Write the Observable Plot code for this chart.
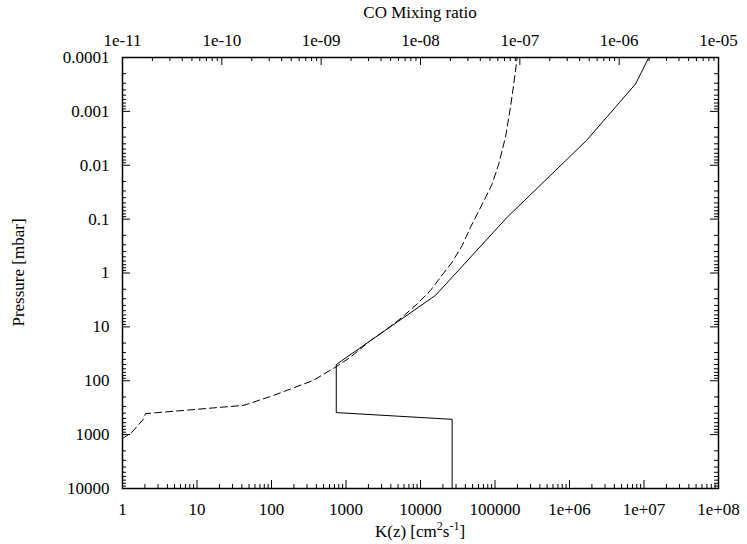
<!DOCTYPE html>
<html><head><meta charset="utf-8">
<script src="https://cdn.jsdelivr.net/npm/d3@7"></script>
<script src="https://cdn.jsdelivr.net/npm/@observablehq/plot@0.6"></script>
<style>body{margin:0;background:#fff} svg, svg text{font-family:"Liberation Serif","Times New Roman",serif !important;}</style>
</head><body><div id="chart"></div>
<script>
// K(z) eddy diffusion profile (bottom axis)
const kzPressure = [10000, 520, 390, 50, 2.6, 0.092, 0.00347, 0.00031, 0.0001];
const kzValue    = [2.66e4, 2.66e4, 740, 740, 1.59e4, 1.46e5, 1.69e6, 7.7e6, 1.16e7];
// CO mixing ratio profile (top axis)
const coPressure = [1186, 896, 505, 408, 286, 187, 98, 56.0, 36.6, 17.9, 10.9, 6.61, 3.73, 2.11, 1.20, 0.631, 0.309, 0.141, 0.042, 0.0221, 0.0094, 0.00301, 0.000837, 0.000308, 0.0001];
const coValue    = [1e-11, 1.25e-11, 1.64e-11, 1.7e-11, 1.67e-10, 3.32e-10, 8.38e-10, 1.39e-9, 1.97e-9, 3.14e-9, 4.62e-9, 6.55e-9, 9.27e-9, 1.26e-8, 1.59e-8, 2.08e-8, 2.63e-8, 3.19e-8, 4.45e-8, 5.27e-8, 6.14e-8, 7.17e-8, 8.05e-8, 8.69e-8, 9.40e-8];
// tick values
const kTicks  = [1, 10, 100, 1000, 10000, 100000, 1e6, 1e7, 1e8];
const kLabels = ["1", "10", "100", "1000", "10000", "100000", "1e+06", "1e+07", "1e+08"];
const coTicks  = [1e-11, 1e-10, 1e-9, 1e-8, 1e-7, 1e-6, 1e-5];
const coLabels = ["1e-11", "1e-10", "1e-09", "1e-08", "1e-07", "1e-06", "1e-05"];
const pTicks  = [0.0001, 0.001, 0.01, 0.1, 1, 10, 100, 1000, 10000];
const pLabels = ["0.0001", "0.001", "0.01", "0.1", "1", "10", "100", "1000", "10000"];

const W = 747, H = 544, mL = 122, mR = 29, mT = 57, mB = 56;
const innerW = W - mL - mR, innerH = H - mT - mB;
const majorLen = 8, minorLen = 4;
const FONT = "Liberation Serif";

// map CO (x2 axis, 1e-11..1e-5) onto the K scale domain (1..1e8)
const co2k = co => 10 ** ((Math.log10(co) + 11) * 8 / 6);
const minors = ticks => ticks.slice(0, -1).flatMap(t => [2,3,4,5,6,7,8,9].map(m => t * m));

const kz = kzPressure.map((p, i) => ({p, v: kzValue[i]}));
const co = coPressure.map((p, i) => ({p, v: coValue[i]}));
const kLab = kTicks.map((t, i) => ({t, label: kLabels[i]}));
const coLab = coTicks.map((t, i) => ({t, label: coLabels[i]}));
const pLab = pTicks.map((t, i) => ({t, label: pLabels[i]}));

const txt = {fontFamily: FONT, fontSize: 17, fill: "#000"};

const svg = Plot.plot({
  width: W, height: H,
  marginLeft: mL, marginRight: mR, marginTop: mT, marginBottom: mB,
  style: {background: "#fff"},
  x: {type: "log", domain: [1, 1e8], axis: null},
  y: {type: "log", domain: [0.0001, 10000], reverse: true, axis: null},
  marks: [
    // inward tick marks
    Plot.ruleX(kTicks, {insetTop: innerH - majorLen, stroke: "#000"}),
    Plot.ruleX(minors(kTicks), {insetTop: innerH - minorLen, stroke: "#000"}),
    Plot.ruleX(coTicks, {x: co2k, insetBottom: innerH - majorLen, stroke: "#000"}),
    Plot.ruleX(minors(coTicks), {x: co2k, insetBottom: innerH - minorLen, stroke: "#000"}),
    Plot.ruleY(pTicks, {insetRight: innerW - majorLen, stroke: "#000"}),
    Plot.ruleY(minors(pTicks), {insetRight: innerW - minorLen, stroke: "#000"}),
    Plot.ruleY(pTicks, {insetLeft: innerW - majorLen, stroke: "#000"}),
    Plot.ruleY(minors(pTicks), {insetLeft: innerW - minorLen, stroke: "#000"}),
    // data
    Plot.line(kz, {x: "v", y: "p", stroke: "#000", strokeWidth: 1}),
    Plot.line(co, {x: d => co2k(d.v), y: "p", stroke: "#000", strokeWidth: 1, strokeDasharray: "7,4", clip: true}),
    Plot.frame({stroke: "#000", strokeWidth: 1.5}),
    // tick labels
    Plot.text(kLab, {x: "t", text: "label", frameAnchor: "bottom", lineAnchor: "top", dy: 14, ...txt}),
    Plot.text(coLab, {x: d => co2k(d.t), text: "label", frameAnchor: "top", lineAnchor: "bottom", dy: -12, ...txt}),
    Plot.text(pLab, {y: "t", text: "label", frameAnchor: "left", textAnchor: "end", dx: -13, ...txt})
  ]
});

const s = d3.select(svg);
s.append("text").attr("x", mL + innerW / 2).attr("y", 18).attr("text-anchor", "middle")
  .attr("font-family", FONT).attr("font-size", 17).attr("fill", "#000").text("CO Mixing ratio");
s.append("text").attr("transform", `translate(24,${mT + innerH / 2}) rotate(-90)`)
  .attr("font-family", FONT).attr("font-size", 17)
  .attr("text-anchor", "middle").attr("fill", "#000").text("Pressure [mbar]");
const xl = s.append("text").attr("x", mL + innerW / 2).attr("y", 537).attr("text-anchor", "middle")
  .attr("font-family", FONT).attr("font-size", 17).attr("fill", "#000");
xl.append("tspan").text("K(z) [cm");
xl.append("tspan").attr("font-size", 12).attr("dy", -7).text("2");
xl.append("tspan").attr("dy", 7).text("s");
xl.append("tspan").attr("font-size", 12).attr("dy", -7).text("-1");
xl.append("tspan").attr("dy", 7).text("]");

document.getElementById("chart").appendChild(svg);
</script>
</body></html>
